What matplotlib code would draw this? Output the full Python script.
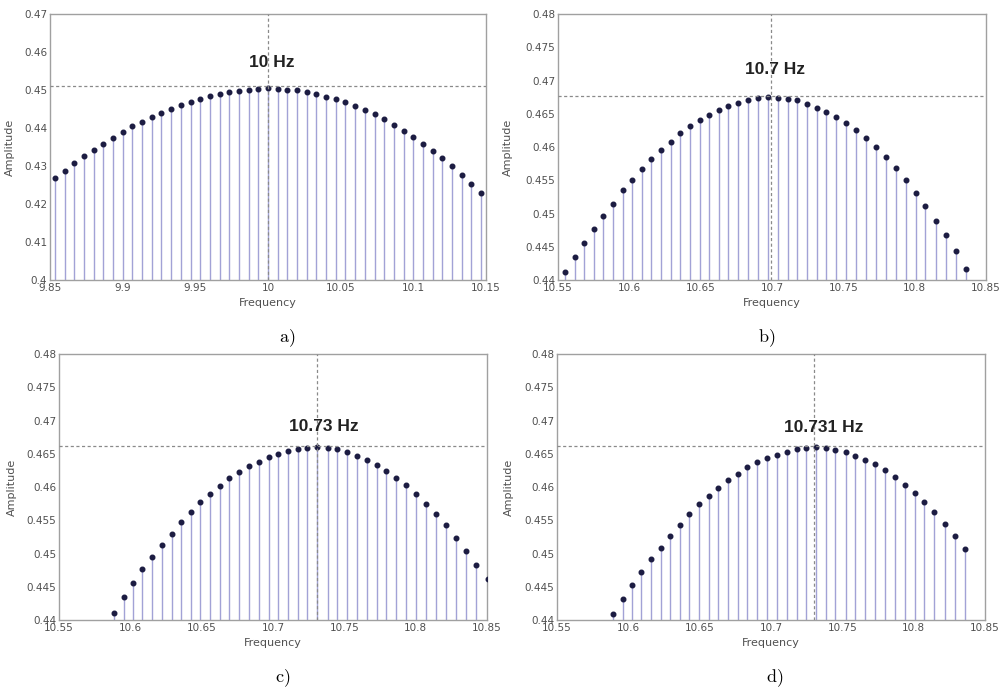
import matplotlib
matplotlib.use("Agg")
import matplotlib.pyplot as plt

# panel a) data
freq_a = [9.8467, 9.8533, 9.86, 9.8667, 9.8733, 9.88, 9.8867, 9.8933, 9.9, 9.9067,
          9.9133, 9.92, 9.9267, 9.9333, 9.94, 9.9467, 9.9533, 9.96, 9.9667, 9.9733,
          9.98, 9.9867, 9.9933, 10.0, 10.0067, 10.0133, 10.02, 10.0267, 10.0333, 10.04,
          10.0467, 10.0533, 10.06, 10.0667, 10.0733, 10.08, 10.0867, 10.0933, 10.1, 10.1067,
          10.1133, 10.12, 10.1267, 10.1333, 10.14, 10.1467]
amp_a = [0.4251, 0.4268, 0.4288, 0.4307, 0.4326, 0.4342, 0.4359, 0.4375, 0.4389, 0.4404,
         0.4416, 0.4430, 0.4440, 0.4451, 0.4461, 0.4469, 0.4477, 0.4483, 0.4489, 0.4494,
         0.4497, 0.4501, 0.4503, 0.4505, 0.4503, 0.4501, 0.4499, 0.4494, 0.4489, 0.4482,
         0.4476, 0.4468, 0.4459, 0.4448, 0.4436, 0.4423, 0.4408, 0.4393, 0.4377, 0.4359,
         0.4340, 0.4320, 0.4299, 0.4277, 0.4253, 0.4230]

# panel b) data
freq_b = [10.5552, 10.5619, 10.5685, 10.5753, 10.5818, 10.5886, 10.5954, 10.6022, 10.6089, 10.6155,
          10.6223, 10.6290, 10.6358, 10.6426, 10.6492, 10.6559, 10.6627, 10.6695, 10.6765, 10.6831,
          10.6903, 10.6973, 10.7039, 10.7109, 10.7177, 10.7244, 10.7312, 10.7380, 10.7450, 10.7520,
          10.7588, 10.7656, 10.7728, 10.7796, 10.7866, 10.7936, 10.8007, 10.8074, 10.8147, 10.8217,
          10.8287, 10.8357]
amp_b = [0.4412, 0.4435, 0.4456, 0.4477, 0.4496, 0.4515, 0.4535, 0.4551, 0.4567, 0.4582,
         0.4595, 0.4608, 0.4621, 0.4631, 0.4640, 0.4648, 0.4655, 0.4662, 0.4666, 0.4670,
         0.4674, 0.4675, 0.4674, 0.4672, 0.4670, 0.4665, 0.4659, 0.4653, 0.4645, 0.4636,
         0.4625, 0.4613, 0.4600, 0.4585, 0.4569, 0.4551, 0.4531, 0.4511, 0.4489, 0.4467,
         0.4443, 0.4417]

# panel c) data
freq_c = [10.5886, 10.5954, 10.6019, 10.6085, 10.6153, 10.6221, 10.6289, 10.6356, 10.6422, 10.6490,
          10.6558, 10.6626, 10.6693, 10.6761, 10.6831, 10.6902, 10.6970, 10.7037, 10.7103, 10.7173,
          10.7239, 10.7307, 10.7384, 10.7452, 10.7520, 10.7587, 10.7658, 10.7728, 10.7793, 10.7864,
          10.7934, 10.7999, 10.8070, 10.8140, 10.8210, 10.8280, 10.8353, 10.8425, 10.8505]
amp_c = [0.4411, 0.4434, 0.4455, 0.4476, 0.4494, 0.4513, 0.4530, 0.4547, 0.4562, 0.4577,
         0.4590, 0.4602, 0.4613, 0.4622, 0.4631, 0.4638, 0.4645, 0.4650, 0.4654, 0.4657,
         0.4659, 0.4660, 0.4659, 0.4657, 0.4652, 0.4647, 0.4641, 0.4633, 0.4624, 0.4614,
         0.4603, 0.4590, 0.4575, 0.4559, 0.4543, 0.4524, 0.4504, 0.4483, 0.4461]

# panel d) data
freq_d = [10.5893, 10.5961, 10.6026, 10.6092, 10.6159, 10.6227, 10.6295, 10.6363, 10.6428, 10.6496,
          10.6564, 10.6632, 10.6700, 10.6767, 10.6835, 10.6905, 10.6973, 10.7041, 10.7109, 10.7179,
          10.7247, 10.7315, 10.7385, 10.7452, 10.7523, 10.7590, 10.7661, 10.7731, 10.7801, 10.7866,
          10.7939, 10.8007, 10.8074, 10.8144, 10.8217, 10.8287, 10.8362]
amp_d = [0.4409, 0.4431, 0.4452, 0.4472, 0.4491, 0.4509, 0.4527, 0.4543, 0.4559, 0.4574,
         0.4587, 0.4599, 0.4610, 0.4620, 0.4630, 0.4637, 0.4644, 0.4648, 0.4653, 0.4657,
         0.4659, 0.4660, 0.4658, 0.4656, 0.4652, 0.4647, 0.4641, 0.4634, 0.4625, 0.4615,
         0.4603, 0.4591, 0.4577, 0.4562, 0.4545, 0.4526, 0.4507]

# ticks
xticks_a = [9.85, 9.9, 9.95, 10.0, 10.05, 10.1, 10.15]
xlabels_a = ['9.85', '9.9', '9.95', '10', '10.05', '10.1', '10.15']
yticks_a = [0.40, 0.41, 0.42, 0.43, 0.44, 0.45, 0.46, 0.47]
ylabels_a = ['0.4', '0.41', '0.42', '0.43', '0.44', '0.45', '0.46', '0.47']
xticks_b = [10.55, 10.6, 10.65, 10.7, 10.75, 10.8, 10.85]
xlabels_b = ['10.55', '10.6', '10.65', '10.7', '10.75', '10.8', '10.85']
yticks_b = [0.44, 0.445, 0.45, 0.455, 0.46, 0.465, 0.47, 0.475, 0.48]
ylabels_b = ['0.44', '0.445', '0.45', '0.455', '0.46', '0.465', '0.47', '0.475', '0.48']

# peak markers: (vline x, hline y, label, label x, label y)
peaks = {
    'a': (10.0, 0.4511, '10 Hz', 10.0025, 0.4572),
    'b': (10.699, 0.4676, '10.7 Hz', 10.702, 0.4716),
    'c': (10.7311, 0.4662, '10.73 Hz', 10.7353, 0.4691),
    'd': (10.7303, 0.4662, '10.731 Hz', 10.7366, 0.4689),
}

plt.rcParams['mathtext.fontset'] = 'cm'

W, H = 1005, 689
fig = plt.figure(figsize=(W / 100, H / 100), dpi=100)


def px_axes(left, top, right, bottom):
    return fig.add_axes([left / W, 1 - bottom / H, (right - left) / W, (bottom - top) / H])


def draw_panel(ax, freq, amp, xlim, ylim, xt, xl, yt, yl, key):
    ax.vlines(freq, ylim[0], amp, color='#a2a2d6', lw=1.0, zorder=2)
    ax.plot(freq, amp, 'o', ms=3.3, color='#1c1c42', zorder=3)
    vx, hy, lab, lx, ly = peaks[key]
    ax.axvline(vx, color='#8a8a8a', lw=0.9, ls=(0, (2.5, 2)), zorder=4)
    ax.axhline(hy, color='#8a8a8a', lw=0.9, ls=(0, (2.5, 2)), zorder=4)
    ax.text(lx, ly, lab, ha='center', va='center', fontsize=12.5,
            fontweight='bold', family='Liberation Sans', color='#222222', zorder=5)
    ax.set_xlim(xlim)
    ax.set_ylim(ylim)
    ax.set_xticks(xt)
    ax.set_xticklabels(xl)
    ax.set_yticks(yt)
    ax.set_yticklabels(yl)
    ax.tick_params(length=0, labelsize=7.5, labelcolor='#505050', pad=2)
    for s in ax.spines.values():
        s.set_color('#a0a0a0')
        s.set_linewidth(1.0)
    ax.set_xlabel('Frequency', fontsize=8, color='#505050', labelpad=4)
    ax.set_ylabel('Amplitude', fontsize=8, color='#505050')


ax_a = px_axes(50, 14, 486, 280)
draw_panel(ax_a, freq_a, amp_a, (9.85, 10.15), (0.40, 0.47), xticks_a, xlabels_a, yticks_a, ylabels_a, 'a')
ax_a.yaxis.set_label_coords(-0.080, 0.5)

ax_b = px_axes(558, 14, 986, 280)
draw_panel(ax_b, freq_b, amp_b, (10.55, 10.85), (0.44, 0.48), xticks_b, xlabels_b, yticks_b, ylabels_b, 'b')
ax_b.yaxis.set_label_coords(-0.105, 0.5)

ax_c = px_axes(59, 354, 487, 620)
draw_panel(ax_c, freq_c, amp_c, (10.55, 10.85), (0.44, 0.48), xticks_b, xlabels_b, yticks_b, ylabels_b, 'c')
ax_c.yaxis.set_label_coords(-0.098, 0.5)

ax_d = px_axes(557, 354, 985, 620)
draw_panel(ax_d, freq_d, amp_d, (10.55, 10.85), (0.44, 0.48), xticks_b, xlabels_b, yticks_b, ylabels_b, 'd')
ax_d.yaxis.set_label_coords(-0.100, 0.5)

# captions under panels
for x, y, t in [(287, 338, 'a)'), (767, 338, 'b)'), (283, 678, 'c)'), (775, 678, 'd)')]:
    fig.text(x / W, 1 - y / H, '$\\mathrm{' + t + '}$', ha='center', va='center', fontsize=13)

fig.savefig('out.png', dpi=100, facecolor='white')
